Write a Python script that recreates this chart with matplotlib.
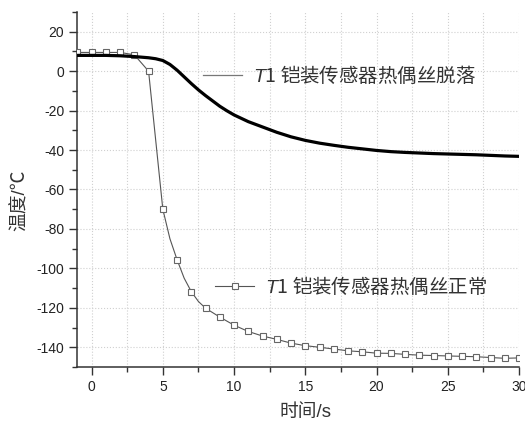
import matplotlib
matplotlib.use("Agg")
import matplotlib.pyplot as plt
from matplotlib.ticker import MultipleLocator
from matplotlib.font_manager import FontProperties

plt.rcParams['font.family'] = ['Liberation Sans', 'Noto Sans CJK SC', 'DejaVu Sans']
plt.rcParams['mathtext.fontset'] = 'custom'
plt.rcParams['mathtext.it'] = 'Liberation Sans:italic'
plt.rcParams['mathtext.rm'] = 'Liberation Sans'
plt.rcParams['axes.unicode_minus'] = False

# T1 sensor, thermocouple wire detached (thick black curve)
t_off = [-1, 0, 1, 2, 3, 3.5, 4, 4.5, 5, 5.5, 6, 6.5, 7, 7.5, 8, 8.5, 9, 9.5, 10,
         11, 12, 13, 14, 15, 16, 17, 18, 19, 20, 21, 22, 23, 24, 25, 26, 27, 28, 29, 30]
temp_off = [8.0, 8.0, 8.0, 7.8, 7.4, 7.1, 6.8, 6.3, 5.4, 3.4, 0.5, -2.9, -6.3, -9.5,
            -12.4, -15.1, -17.8, -20.1, -22.2, -25.6, -28.3, -31.0, -33.3, -35.1,
            -36.5, -37.6, -38.6, -39.4, -40.2, -40.8, -41.2, -41.5, -41.8, -42.0,
            -42.2, -42.4, -42.7, -43.0, -43.2]

# T1 sensor, thermocouple wire normal (thin line with square markers every 1 s)
t_ok = [-1, 0, 1, 2, 3, 4, 5, 5.5, 6, 6.5, 7, 7.5, 8, 9, 10, 11, 12, 13, 14, 15, 16,
        17, 18, 19, 20, 21, 22, 23, 24, 25, 26, 27, 28, 29, 30]
temp_ok = [9.5, 9.5, 9.5, 9.5, 8.3, 0.0, -70.0, -85.0, -95.6, -105.0, -111.8, -116.8,
           -120.2, -124.7, -128.8, -132.0, -134.3, -136.0, -137.9, -139.2, -140.0,
           -140.9, -141.8, -142.3, -143.0, -143.1, -143.6, -144.0, -144.2, -144.4,
           -144.6, -144.8, -145.2, -145.6, -145.4]
marker_idx = [i for i, t in enumerate(t_ok) if t == int(t)]

label_off = "$T$1 铠装传感器热偶丝脱落"
label_ok = "$T$1 铠装传感器热偶丝正常"

dark = '#333333'

fig = plt.figure(figsize=(5.25, 4.21), dpi=100)
ax = fig.add_axes([0.1473, 0.1283, 0.8413, 0.8432])

l_ok, = ax.plot(t_ok, temp_ok, color='#555555', lw=0.8, marker='s', markersize=5,
                markerfacecolor='white', markeredgecolor='#666666', markeredgewidth=0.8,
                markevery=marker_idx, zorder=3)
l_off, = ax.plot(t_off, temp_off, color='black', lw=2.3, zorder=4)

ax.set_xlim(-1, 30)
ax.xaxis.set_major_locator(MultipleLocator(5))
ax.xaxis.set_minor_locator(MultipleLocator(2.5))
ax.yaxis.set_minor_locator(MultipleLocator(10))
ax.set_yticks(range(-140, 21, 20))
ax.set_ylim(-150, 30)

ax.grid(which='major', color='#d0d0d0', linestyle=':', linewidth=0.8)
ax.grid(which='minor', axis='x', color='#d0d0d0', linestyle=':', linewidth=0.8)
ax.set_axisbelow(True)

for s in ['top', 'right']:
    ax.spines[s].set_visible(False)
for s in ['left', 'bottom']:
    ax.spines[s].set_color(dark)
    ax.spines[s].set_linewidth(1.1)

ax.tick_params(which='major', direction='out', length=5.5, width=1.0, color=dark,
               labelsize=10, labelcolor='#222222', pad=4)
ax.tick_params(which='minor', direction='out', length=3.5, width=1.0, color=dark)

ax.set_xlabel("时间/s", fontsize=13.5, color='#333333')
ax.set_ylabel("温度/℃", fontsize=13.5, color='#333333')
ax.xaxis.set_label_coords(0.516, -0.105)
ax.yaxis.set_label_coords(-0.11, 0.47)

lprop = FontProperties(family='Noto Sans CJK SC', size=14)
leg1 = ax.legend([l_off], [label_off], loc='center left', bbox_to_anchor=(0.285, 0.82),
                 frameon=False, prop=lprop, handlelength=2.0, handletextpad=0.55,
                 borderpad=0, borderaxespad=0)
leg1.get_lines()[0].set_linewidth(0.9)
leg1.get_lines()[0].set_color('#777777')
for t in leg1.get_texts():
    t.set_color('#333333')
ax.add_artist(leg1)

leg2 = ax.legend([l_ok], [label_ok], loc='center left', bbox_to_anchor=(0.312, 0.225),
                 frameon=False, prop=lprop, handlelength=2.0, handletextpad=0.55,
                 borderpad=0, borderaxespad=0, markerscale=1.0)
for t in leg2.get_texts():
    t.set_color('#333333')

fig.savefig("out.png", dpi=100)
